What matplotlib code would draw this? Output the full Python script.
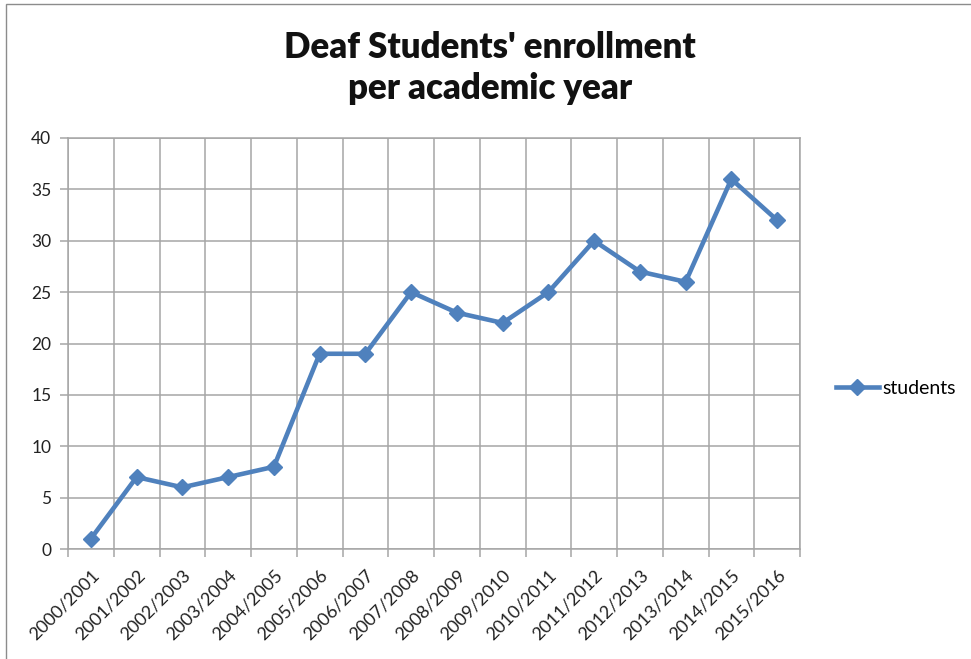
import matplotlib
matplotlib.use('Agg')
import matplotlib.pyplot as plt
from matplotlib.patches import Rectangle
import numpy as np

# data
years = ['2000/2001', '2001/2002', '2002/2003', '2003/2004', '2004/2005',
         '2005/2006', '2006/2007', '2007/2008', '2008/2009', '2009/2010',
         '2010/2011', '2011/2012', '2012/2013', '2013/2014', '2014/2015',
         '2015/2016']
students = [1, 7, 6, 7, 8, 19, 19, 25, 23, 22, 25, 30, 27, 26, 36, 32]
y_ticks = [0, 5, 10, 15, 20, 25, 30, 35, 40]

plt.rcParams['font.family'] = ['Lato', 'DejaVu Sans']
blue = '#4F81BD'
grid_c = '#A6A6A6'

fig = plt.figure(figsize=(9.71, 6.59), dpi=100)
# outer chart border (Excel chart area)
fig.patches.append(Rectangle((6/971, -0.1), 1.2, 1 - 4/659 + 0.1, transform=fig.transFigure,
                             fill=False, edgecolor='#8C8C8C', lw=1.0))

ax = fig.add_axes([68/971, 1 - 549/659, (800-68)/971, (549-138)/659])
x = np.arange(len(years))
ax.plot(x, students, color=blue, lw=3.3, marker='D', markersize=8.5,
        label='students', solid_joinstyle='round')

ax.set_xlim(-0.5, len(years) - 0.5)
ax.set_ylim(0, 40)
ax.set_yticks(y_ticks)
ax.set_yticklabels([str(v) for v in y_ticks], fontsize=12.5, color='#222222')
ax.set_xticks(x)
ax.set_xticklabels(years, rotation=45, ha='right', rotation_mode='anchor',
                   fontsize=13, color='#222222')
ax.set_xticks(np.arange(-0.5, len(years)), minor=True)
ax.tick_params(axis='x', which='major', length=0, pad=13)
ax.tick_params(axis='x', which='minor', length=6, color=grid_c, width=1.1)
ax.tick_params(axis='y', length=6, color=grid_c, width=1.1, pad=6)

ax.grid(True, which='minor', axis='x', color=grid_c, lw=1.1)
ax.grid(True, which='major', axis='y', color=grid_c, lw=1.1)
ax.set_axisbelow(True)
for s in ax.spines.values():
    s.set_color(grid_c)
    s.set_linewidth(1.1)

leg = ax.legend(loc='center left', bbox_to_anchor=(1.025, 0.39), frameon=False,
                fontsize=14, handlelength=2.2, handletextpad=0.2)

fig.text(0.505, 1 - 68/659, "Deaf Students' enrollment\nper academic year",
         ha='center', va='center', fontsize=25, fontweight='heavy',
         linespacing=1.3, color='#111111')

fig.savefig('out.png', dpi=100)
